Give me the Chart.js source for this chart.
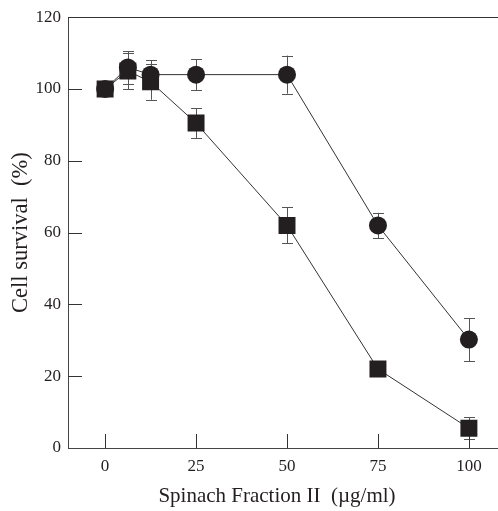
<!DOCTYPE html>
<html>
<head>
<meta charset="utf-8">
<script src="https://cdn.jsdelivr.net/npm/chart.js@4.4.1/dist/chart.umd.min.js"></script>
<style>
  html, body { margin: 0; padding: 0; background: #fff; overflow: hidden; }
  #wrap { width: 498px; height: 511px; }
</style>
</head>
<body>
<div id="wrap"><canvas id="survivalChart"></canvas></div>
<script>
// dati
const doses = [0, 6.25, 12.5, 25, 50, 75, 100];
const squareSurvival = [100, 105, 102, 90.5, 62, 22, 5.5];
const squareErr = [0, 5, 5, 4.2, 5, 1, 3];
const circleSurvival = [100, 106, 104, 104, 104, 62, 30.2];
const circleErr = [0, 4.5, 4, 4.3, 5.3, 3.5, 6];
const xTicks = [0, 25, 50, 75, 100];
const yTicks = [0, 20, 40, 60, 80, 100, 120];

const serif = "'Liberation Serif', 'Times New Roman', serif";
const ink = '#231f20';

// barre di errore, disegnate sotto i marcatori
const errorBars = {
    id: 'errorBars',
    beforeDatasetsDraw(chart) {
        const ctx = chart.ctx;
        const x = chart.scales.x, y = chart.scales.y;
        ctx.save();
        ctx.strokeStyle = '#555';
        ctx.lineWidth = 1;
        chart.data.datasets.forEach(ds => {
            ds.data.forEach((p, i) => {
                const e = ds.errors[i];
                if (!e) return;
                const px = Math.round(x.getPixelForValue(p.x)) + 0.5;
                const top = y.getPixelForValue(p.y + e);
                const bot = y.getPixelForValue(p.y - e);
                ctx.beginPath();
                ctx.moveTo(px, top); ctx.lineTo(px, bot);
                ctx.moveTo(px - 5.5, Math.round(top) + 0.5); ctx.lineTo(px + 5.5, Math.round(top) + 0.5);
                ctx.moveTo(px - 5.5, Math.round(bot) + 0.5); ctx.lineTo(px + 5.5, Math.round(bot) + 0.5);
                ctx.stroke();
            });
        });
        ctx.restore();
    }
};

// tacche interne, linea superiore e asse x fino al bordo
const innerTicks = {
    id: 'innerTicks',
    beforeDatasetsDraw(chart) {
        const ctx = chart.ctx;
        const a = chart.chartArea;
        const x = chart.scales.x, y = chart.scales.y;
        ctx.save();
        ctx.strokeStyle = '#333';
        ctx.lineWidth = 1;
        ctx.beginPath();
        xTicks.forEach(v => {
            const px = Math.round(x.getPixelForValue(v)) + 0.5;
            ctx.moveTo(px, a.bottom); ctx.lineTo(px, a.bottom - 14);
        });
        yTicks.slice(1, -1).forEach(v => {
            const py = Math.round(y.getPixelForValue(v)) + 0.5;
            ctx.moveTo(a.left, py); ctx.lineTo(a.left + 14, py);
        });
        ctx.moveTo(a.left, Math.round(a.top) + 0.5);
        ctx.lineTo(chart.width, Math.round(a.top) + 0.5);
        ctx.stroke();
        ctx.strokeStyle = '#444';
        ctx.beginPath();
        ctx.moveTo(a.right, Math.round(a.bottom) + 0.5);
        ctx.lineTo(chart.width, Math.round(a.bottom) + 0.5);
        ctx.stroke();
        ctx.restore();
    }
};

const ctx = document.getElementById('survivalChart').getContext('2d');
const survivalChart = new Chart(ctx, {
    type: 'line',
    data: {
        datasets: [{
            label: 'circle',
            data: doses.map((d, i) => ({ x: d, y: circleSurvival[i] })),
            errors: circleErr,
            borderColor: '#333',
            borderWidth: 1,
            backgroundColor: ink,
            pointStyle: 'circle',
            pointRadius: 9,
            pointBorderWidth: 0,
            tension: 0
        }, {
            label: 'square',
            data: doses.map((d, i) => ({ x: d, y: squareSurvival[i] })),
            errors: squareErr,
            borderColor: '#333',
            borderWidth: 1,
            backgroundColor: ink,
            pointStyle: 'rect',
            pointRadius: 12,
            pointBorderWidth: 0,
            tension: 0
        }]
    },
    options: {
        responsive: true,
        maintainAspectRatio: false,
        animation: false,
        layout: { padding: { top: 16, right: 0, left: 0, bottom: 0 } },
        plugins: { legend: { display: false }, tooltip: { enabled: false } },
        scales: {
            x: {
                type: 'linear',
                min: -10.2,
                max: 104.7,
                afterBuildTicks: s => { s.ticks = xTicks.map(v => ({ value: v })); },
                afterFit: s => { s.height = 63; s.paddingRight = 0; s.paddingLeft = 0; },
                grid: { display: false, drawTicks: false },
                border: { display: true, color: '#444', width: 1 },
                ticks: { color: ink, font: { family: serif, size: 17 }, padding: 8, maxRotation: 0 },
                title: {
                    display: true,
                    text: 'Spinach Fraction II  (\u00b5g/ml)',
                    color: ink,
                    font: { family: serif, size: 21 },
                    padding: { top: 4, bottom: 2 }
                }
            },
            y: {
                min: 0,
                max: 120,
                afterBuildTicks: s => { s.ticks = yTicks.map(v => ({ value: v })); },
                afterFit: s => { s.width = 68; },
                grid: { display: false, drawTicks: false },
                border: { display: true, color: '#444', width: 1 },
                ticks: { color: ink, font: { family: serif, size: 17 }, padding: 7 },
                title: {
                    display: true,
                    text: 'Cell survival  (%)',
                    color: ink,
                    font: { family: serif, size: 22.5 },
                    padding: { top: 8, bottom: 0 }
                }
            }
        }
    },
    plugins: [errorBars, innerTicks]
});
</script>
</body>
</html>
